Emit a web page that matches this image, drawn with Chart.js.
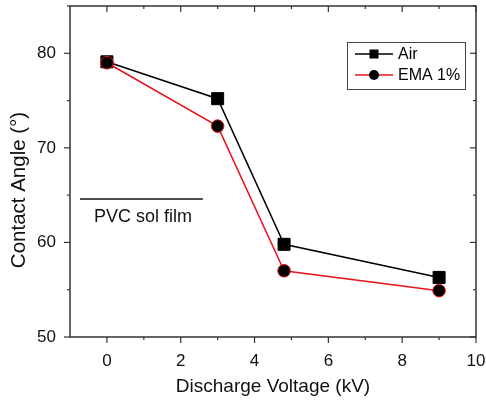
<!DOCTYPE html>
<html>
<head>
<meta charset="utf-8">
<script src="https://cdn.jsdelivr.net/npm/chart.js@4/dist/chart.umd.min.js"></script>
<style>
  html, body { margin: 0; padding: 0; background: #fff; }
  #wrap { width: 486px; height: 404px; }
</style>
</head>
<body>
<div id="wrap"><canvas id="chart" width="486" height="404"></canvas></div>
<script>
// data
const voltage = [0, 3, 4.8, 9];
const airAngle = [79.1, 75.2, 59.8, 56.3];
const emaAngle = [79.0, 72.3, 57.0, 54.9];
const xTicks = [0, 2, 4, 6, 8, 10];
const yTicks = [50, 60, 70, 80];
const xMinor = [1, 3, 5, 7, 9];
const yMinor = [55, 65, 75, 85];
const xRange = [-1, 10];
const yRange = [50, 85];
const pvcLineX = [-0.73, 2.6];
const pvcLineY = 64.6;
const pvcLabel = 'PVC sol film';
const yTitle = 'Contact Angle (°)';

const FONT = 'Liberation Sans, Arial, sans-serif';
const AXIS = '#333';
const PLOT = { left: 70, top: 6, right: 476, bottom: 337 };

// pin the plot box where the original has it
const boxPlugin = {
  id: 'box',
  afterLayout(chart) {
    const sx = chart.scales.x, sy = chart.scales.y;
    sx.left = PLOT.left; sx.right = PLOT.right; sx.width = PLOT.right - PLOT.left;
    sy.top = PLOT.top; sy.bottom = PLOT.bottom; sy.height = PLOT.bottom - PLOT.top;
    sx.configure(); sy.configure();
    Object.assign(chart.chartArea, PLOT, {
      width: PLOT.right - PLOT.left, height: PLOT.bottom - PLOT.top
    });
  }
};

// frame, ticks, legend and annotation
const decoPlugin = {
  id: 'deco',
  afterDraw(chart) {
    const { ctx } = chart;
    const sx = chart.scales.x, sy = chart.scales.y;
    const a = {
      left: sx.getPixelForValue(xRange[0]),
      right: sx.getPixelForValue(xRange[1]),
      top: sy.getPixelForValue(yRange[1]),
      bottom: sy.getPixelForValue(yRange[0])
    };
    ctx.save();
    ctx.strokeStyle = AXIS;
    ctx.lineWidth = 1.5;
    ctx.strokeRect(a.left, a.top, a.right - a.left, a.bottom - a.top);

    ctx.lineWidth = 1.2;
    const tick = (x1, y1, x2, y2) => {
      ctx.beginPath(); ctx.moveTo(x1, y1); ctx.lineTo(x2, y2); ctx.stroke();
    };
    xTicks.forEach(v => {
      const p = sx.getPixelForValue(v);
      tick(p, a.bottom, p, a.bottom + 6);
      tick(p, a.top, p, a.top + 6);
    });
    xMinor.forEach(v => {
      const p = sx.getPixelForValue(v);
      tick(p, a.bottom, p, a.bottom + 3);
      tick(p, a.top, p, a.top + 3);
    });
    yTicks.forEach(v => {
      const p = sy.getPixelForValue(v);
      tick(a.left, p, a.left - 6, p);
      tick(a.right, p, a.right - 6, p);
    });
    yMinor.forEach(v => {
      const p = sy.getPixelForValue(v);
      tick(a.left, p, a.left - 3, p);
      tick(a.right, p, a.right - 3, p);
    });

    // y axis title
    ctx.fillStyle = '#111';
    ctx.save();
    ctx.translate(19, 190);
    ctx.rotate(-Math.PI / 2);
    ctx.font = '20.5px ' + FONT;
    ctx.textAlign = 'center';
    ctx.textBaseline = 'middle';
    ctx.fillText(yTitle, 0, 0);
    ctx.restore();

    // PVC sol film reference line
    ctx.strokeStyle = '#111';
    ctx.lineWidth = 1.5;
    const py = sy.getPixelForValue(pvcLineY);
    tick(sx.getPixelForValue(pvcLineX[0]), py, sx.getPixelForValue(pvcLineX[1]), py);
    ctx.font = '18px ' + FONT;
    ctx.textAlign = 'center';
    ctx.textBaseline = 'middle';
    ctx.fillText(pvcLabel, sx.getPixelForValue(0.98), sy.getPixelForValue(62.7));

    // legend
    const lx = 347, ly = 42, lw = 118, lh = 47;
    ctx.fillStyle = '#fff';
    ctx.fillRect(lx, ly, lw, lh);
    ctx.strokeStyle = '#444';
    ctx.lineWidth = 1;
    ctx.strokeRect(lx + 0.5, ly + 0.5, lw, lh);
    chart.data.datasets.forEach((ds, i) => {
      const yy = ly + 12 + i * 21;
      ctx.strokeStyle = ds.borderColor;
      ctx.lineWidth = 1.5;
      tick(lx + 8, yy, lx + 46, yy);
      ctx.fillStyle = '#000';
      if (ds.pointStyle === 'rect') {
        ctx.fillRect(lx + 27 - 4.5, yy - 4.5, 9, 9);
      } else {
        ctx.beginPath(); ctx.arc(lx + 27, yy, 5, 0, Math.PI * 2); ctx.fill();
      }
      ctx.fillStyle = '#000';
      ctx.font = '16px ' + FONT;
      ctx.textAlign = 'left';
      ctx.fillText(ds.label, lx + 51, yy + 1);
    });
    ctx.restore();
  }
};

new Chart(document.getElementById('chart'), {
  type: 'scatter',
  data: {
    datasets: [
      {
        label: 'Air',
        data: voltage.map((v, i) => ({ x: v, y: airAngle[i] })),
        showLine: true,
        clip: false,
        borderColor: '#000',
        borderWidth: 1.5,
        pointStyle: 'rect',
        pointRadius: 8.5,
        pointBackgroundColor: '#000',
        pointBorderColor: '#000',
        pointBorderWidth: 1,
        order: 2
      },
      {
        label: 'EMA 1%',
        data: voltage.map((v, i) => ({ x: v, y: emaAngle[i] })),
        showLine: true,
        clip: false,
        borderColor: '#e8141b',
        borderWidth: 1.5,
        pointStyle: 'circle',
        pointRadius: 6.3,
        pointBackgroundColor: '#000',
        pointBorderColor: '#e8141b',
        pointBorderWidth: 1,
        order: 1
      }
    ]
  },
  options: {
    responsive: false,
    animation: false,
    layout: { padding: { top: 6, right: 10, left: 0, bottom: 0 } },
    plugins: { legend: { display: false }, tooltip: { enabled: false } },
    scales: {
      x: {
        type: 'linear',
        min: xRange[0],
        max: xRange[1],
        afterBuildTicks: s => { s.ticks = xTicks.map(v => ({ value: v })); },
        afterFit: s => { s.height = 67; },
        grid: { display: false },
        border: { display: false },
        ticks: { color: '#111', font: { family: FONT, size: 17 }, padding: 6 },
        title: {
          display: true,
          text: 'Discharge Voltage (kV)',
          color: '#111',
          font: { family: FONT, size: 19 },
          padding: { top: 0, bottom: 6 }
        }
      },
      y: {
        min: yRange[0],
        max: yRange[1],
        afterBuildTicks: s => { s.ticks = yTicks.map(v => ({ value: v })); },
        afterFit: s => { s.width = 70; },
        grid: { display: false },
        border: { display: false },
        ticks: { color: '#111', font: { family: FONT, size: 17 }, padding: 6 }
      }
    }
  },
  plugins: [boxPlugin, decoPlugin]
});
</script>
</body>
</html>
